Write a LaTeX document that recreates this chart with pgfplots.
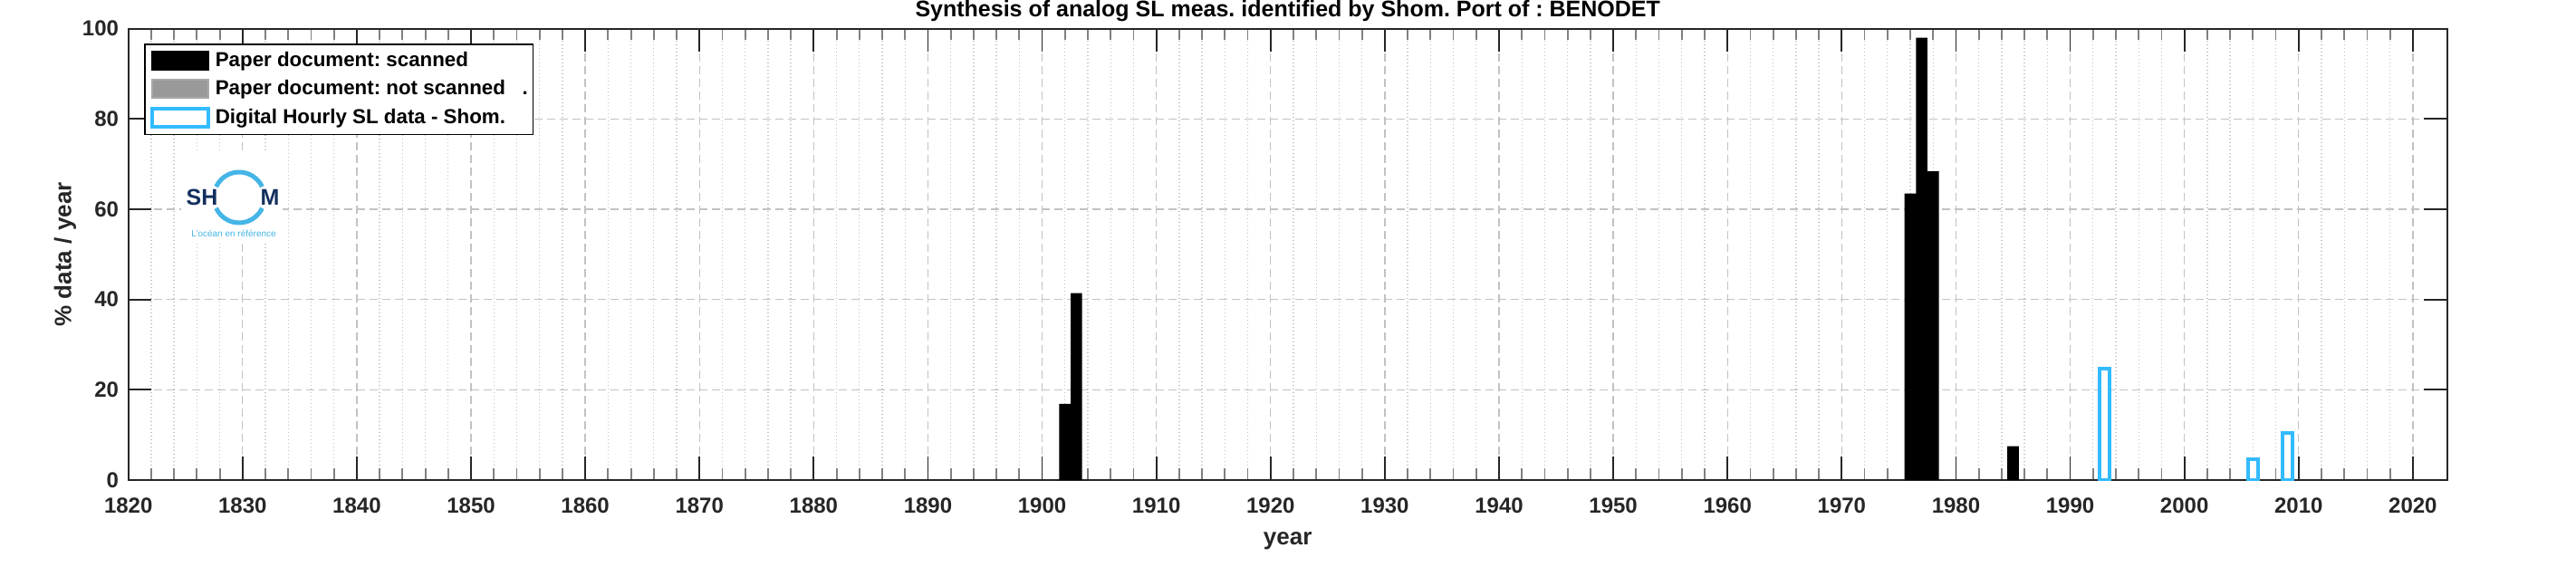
\documentclass[border=0pt]{standalone}
\usepackage{fontspec}
\setmainfont{Liberation Sans}
\usepackage{pgfplots}
\pgfplotsset{compat=1.18}
\definecolor{axgray}{HTML}{262626}
\definecolor{gridgray}{HTML}{C2C2C2}
\definecolor{digblue}{HTML}{33BBFF}
\definecolor{notscanned}{HTML}{999999}
\definecolor{navy}{HTML}{13305E}
\definecolor{logoblue}{HTML}{45B5E6}
\pgfplotsset{swatch/.style={legend image code/.code={\draw[##1] (0pt,-3pt) rectangle (18.6pt,3pt);}}}
\begin{document}
\frenchspacing
\begin{tikzpicture}
\useasboundingbox (0,0) rectangle (853.2pt,187.5pt);
\begin{axis}[
  at={(42.51pt,28.5pt)}, anchor=south west,
  scale only axis, width=768pt, height=149.5pt,
  xmin=1820, xmax=2023, ymin=0, ymax=100,
  xtick={1820,1830,...,2020}, ytick={0,20,...,100},
  minor x tick num=4,
  tick align=inside,
  major tick length=7.7pt, minor tick length=3.85pt,
  xmajorgrids, xminorgrids, ymajorgrids,
  major grid style={gridgray, line width=0.4pt, dash pattern=on 2.7pt off 1.5pt},
  minor grid style={gridgray, line width=0.4pt, dash pattern=on 0.3pt off 0.9pt},
  axis line style={axgray, line width=0.55pt},
  major tick style={axgray, line width=0.55pt},
  minor tick style={gray, line width=0.55pt},
  /pgf/number format/1000 sep={},
  /pgf/number format/assume math mode=true,
  ticklabel style={font=\fontsize{7.2}{8}\selectfont\bfseries, text=axgray},
  xticklabel style={anchor=base, yshift=-10.8pt},
  yticklabel style={anchor=east, inner sep=0pt, xshift=-3pt},
  xlabel={year},
  xlabel style={at={(axis description cs:0.5,0)}, anchor=base, yshift=-21.5pt, font=\fontsize{7.8}{9}\selectfont\bfseries, text=axgray},
  ylabel={\% data / year},
  ylabel style={at={(axis description cs:-0.0246,0.5)}, anchor=base, font=\fontsize{7.8}{9}\selectfont\bfseries, text=axgray},
  title={Synthesis of analog SL meas. identified by Shom. Port of : BENODET},
  title style={at={(axis description cs:0.5,1)}, anchor=base, yshift=-2pt, font=\fontsize{7.5}{9}\selectfont\bfseries},
  legend style={at={(axis description cs:0.00688,0.9667)}, anchor=north west, draw=black, line width=0.5pt, fill=white,
    font=\fontsize{6.7}{8}\selectfont\bfseries, inner xsep=1.7pt, inner ysep=2pt, row sep=2.5pt, column sep=1.8pt,
    nodes={inner sep=0pt, text height=5.3pt, text depth=1.5pt}, cells={anchor=west}},
]
\addplot[ybar, bar width=1, bar shift=0pt, fill=black, draw=none, swatch] coordinates {
  (1902,16.9) (1903,41.4) (1976,63.5) (1977,98.0) (1978,68.4) (1985,7.5)
};
\addlegendentry{Paper document: scanned}
\addlegendimage{swatch, fill=notscanned, draw=notscanned!85!white}
\addlegendentry{Paper document: not scanned\ \ \ .}
\addplot[ybar, bar width=0.9, bar shift=0pt, fill=white, draw=digblue, line width=1.2pt, swatch] coordinates {
  (1993,24.6) (2006,4.6) (2009,10.4)
};
\addlegendentry{Digital Hourly SL data - Shom.}
\end{axis}
\begin{scope}[shift={(0pt,187.5pt)}, x=0.3pt, y=-0.3pt]
  \fill[white] (200,168) rectangle (312,268);
  \draw[logoblue, line width=1.5pt] (264,218) ++(25:28) arc[start angle=25, end angle=155, radius=28];
  \draw[logoblue, line width=1.5pt] (264,218) ++(-25:28) arc[start angle=-25, end angle=-155, radius=28];
  \node[anchor=east, inner sep=0pt, text=navy, font=\fontsize{7.5}{8}\selectfont\bfseries] at (241,218) {SH};
  \node[anchor=west, inner sep=0pt, text=navy, font=\fontsize{7.5}{8}\selectfont\bfseries] at (287,218) {M};
  \node[inner sep=0pt, text=logoblue, font=\fontsize{3}{3.5}\selectfont] at (258,258) {L'océan en référence};
\end{scope}
\end{tikzpicture}
\end{document}
